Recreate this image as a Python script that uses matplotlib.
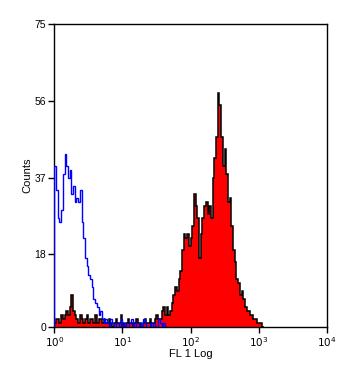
import matplotlib.pyplot as plt
import numpy as np

plt.rcParams['font.family'] = ['Liberation Sans', 'DejaVu Sans']

# 40 channels per decade, starting at 10^0
ch_per_decade = 40

# isotype control (blue outline)
blue_counts = [40, 34, 27, 26, 29, 38, 43, 40, 37, 39,
               33, 35, 31, 32, 31, 34, 26, 22, 17, 15,
               13, 12, 10, 7, 6, 5, 3, 4, 2, 1,
               2, 1, 0, 2, 1, 0, 1, 1, 0, 2,
               0, 1, 0, 0, 1, 2, 0, 1, 0, 0,
               1, 0, 2, 1, 0, 0, 1, 0, 1, 0,
               0, 2, 1, 0, 1, 0, 0]

# stained sample (red fill, black outline)
red_counts = [1, 2, 2, 1, 3, 2, 3, 4, 3,
              5, 8, 4, 3,
              2, 1, 3, 2, 1, 2, 3, 1, 2, 2, 1, 3, 1, 2, 2, 1, 2, 1,
              1, 2, 1, 0, 1, 2, 1, 1, 3, 1, 0, 1, 2, 1, 1, 0, 1, 2, 1, 1, 0, 1, 2, 1, 1,
              2, 1, 1, 2, 3, 2, 2, 4, 5, 3,
              5, 3, 4, 6, 8, 10, 9, 12, 14, 19,
              23, 22, 23, 20, 22, 25, 33, 30, 27, 17,
              23, 27, 30, 31, 28, 30, 27, 37, 42, 47,
              58, 55, 47, 40, 44, 38, 31, 32, 25, 19,
              16, 12, 11, 8, 9, 7, 5, 4, 4, 3,
              3, 2, 2, 1, 1, 1, 0]

y_ticks = [0, 18, 37, 56, 75]
x_ticks = [1, 10, 100, 1000, 10000]
x_labels = ['$10^{0}$', '$10^{1}$', '$10^{2}$', '$10^{3}$', '$10^{4}$']

fig = plt.figure(figsize=(3.62, 3.74), dpi=100)
ax = fig.add_axes([0.15, 0.1257, 0.7525, 0.809])

red_edges = 10 ** (np.arange(len(red_counts) + 1) / ch_per_decade)
blue_edges = 10 ** (np.arange(len(blue_counts) + 1) / ch_per_decade)

ax.stairs(red_counts, red_edges, fill=True, color='#ff0000', zorder=2)
ax.stairs(red_counts, red_edges, color='black', linewidth=1.1, zorder=3)
ax.stairs(blue_counts, blue_edges, color='#0000ff', linewidth=1.0, zorder=4)

ax.set_xscale('log')
ax.set_xlim(1, 10000)
ax.set_ylim(0, 75)
ax.set_xticks(x_ticks)
ax.set_xticklabels(x_labels)
ax.xaxis.set_minor_locator(plt.NullLocator())
ax.set_yticks(y_ticks)
ax.tick_params(axis='both', direction='out', length=4, width=1, labelsize=7.5, pad=2)
for s in ax.spines.values():
    s.set_linewidth(1)
ax.set_xlabel('FL 1 Log', fontsize=8, labelpad=0)
ax.set_ylabel('Counts', fontsize=8, labelpad=1)

fig.savefig('out.png', dpi=100)
